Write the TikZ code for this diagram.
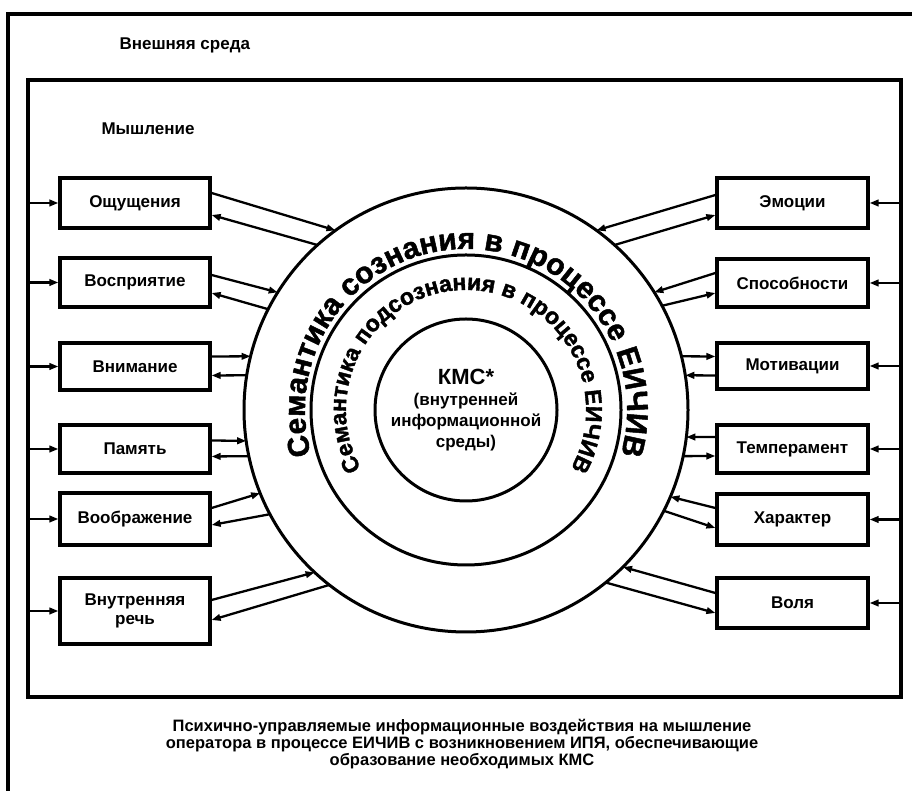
\documentclass[tikz,border=0pt]{standalone}
\usepackage{fontspec}
\setmainfont{Liberation Sans}
\newfontfamily\heavyfont[FakeBold=1.6]{Liberation Sans Bold}
\usetikzlibrary{arrows.meta,decorations.text}
\newcommand{\ringA}{\heavyfont\fontsize{30}{30}\selectfont}
\newcommand{\ringB}{\heavyfont\fontsize{23}{23}\selectfont}
\begin{document}
\begin{tikzpicture}[x=1pt,y=1pt,
  frame/.style={draw, line width=3.6pt, inner sep=0pt, outer sep=0pt},
  box/.style={draw, line width=3.2pt, inner sep=2pt, align=center,
    font=\bfseries\fontsize{17}{19}\selectfont},
  lbox/.style={box, minimum width=150pt},
  rbox/.style={box, minimum width=151pt},
  ring/.style={circle, draw, line width=3pt, inner sep=0pt, outer sep=0pt},
  lnk/.style={line width=2.3pt, -{Triangle[length=9pt,width=6.5pt]}},
  lbl/.style={anchor=west, font=\bfseries\fontsize{17}{19}\selectfont}]
\useasboundingbox (0,0) rectangle (912,791);
\fill[white] (0,0) rectangle (912,791);
% outer frame (environment)
\draw[line width=3.6pt] (8,-20) rectangle (940,777);
\node[lbl] (ext) at (116,746) {Внешняя среда};
% inner frame (thinking)
\node[frame, minimum width=873pt, minimum height=617pt] (think) at (464.5,402.5) {};
\node[lbl] (mysl) at (98,662) {Мышление};
% circles
\node[ring, minimum size=444pt] (outer) at (466,381) {};
\node[ring, minimum size=310pt] (mid) at (466,381) {};
\node[ring, minimum size=182pt, align=center,
  font=\bfseries\fontsize{17}{21}\selectfont] (core) at (466,381)
  {{\fontsize{22}{25}\selectfont КМС*}\\(внутренней\\информационной\\среды)};
% ring texts
\path[decorate, decoration={text along path, text align=center,
  text={|\ringA|Семантика сознания в процессе ЕИЧИВ}}]
  (466,381) ++(260:161) arc[start angle=260, end angle=-80, radius=161];
\path[decorate, decoration={text along path, text align=center,
  text={|\ringB|Семантика подсознания в процессе ЕИЧИВ}}]
  (466,381) ++(260:120) arc[start angle=260, end angle=-80, radius=120];
% left boxes
\node[lbox, minimum height=50pt] (ocs) at (135,588) {Ощущения};
\node[lbox, minimum height=49pt] (vos) at (135,508.5) {Восприятие};
\node[lbox, minimum height=47pt] (vni) at (135,424.5) {Внимание};
\node[lbox, minimum height=48pt] (pam) at (135,342) {Память};
\node[lbox, minimum height=52pt] (vob) at (135,272) {Воображение};
\node[lbox, minimum height=66pt] (vnr) at (135,180) {Внутренняя\\речь};
% right boxes
\node[rbox, minimum height=50pt] (emo) at (792.5,588) {Эмоции};
\node[rbox, minimum height=48pt] (spo) at (792.5,508) {Способности};
\node[rbox, minimum height=46pt] (mot) at (792.5,425) {Мотивации};
\node[rbox, minimum height=48pt] (tem) at (792.5,342) {Темперамент};
\node[rbox, minimum height=51pt] (har) at (792.5,271.5) {Характер};
\node[rbox, minimum height=50pt] (vol) at (792.5,188) {Воля};
% bus arrows
\foreach \b in {ocs,vos,vni,pam,vob,vnr}
  \draw[lnk] (think.west |- \b.west) -- (\b.west);
\foreach \b in {emo,spo,mot,tem,har,vol}
  \draw[lnk] (think.east |- \b.east) -- (\b.east);
% left links
\draw[lnk] ([yshift=10pt]ocs.east) -- (outer.126);
\draw[lnk] (outer.132) -- ([yshift=-12pt]ocs.east);
\draw[lnk] ([yshift=7.5pt]vos.east) -- (outer.148);
\draw[lnk] (outer.153) -- ([yshift=-10.5pt]vos.east);
\draw[lnk] ([yshift=10pt]vni.east) -- (outer.166);
\draw[lnk] (outer.171) -- ([yshift=-9pt]vni.east);
\draw[lnk] ([yshift=8.5pt]pam.east) -- (outer.188);
\draw[lnk] (outer.192) -- ([yshift=-7.5pt]pam.east);
\draw[lnk] ([yshift=11pt]vob.east) -- (outer.202);
\draw[lnk] (outer.208) -- ([yshift=-6pt]vob.east);
\draw[lnk] ([yshift=11pt]vnr.east) -- (outer.227);
\draw[lnk] (outer.232) -- ([yshift=-9pt]vnr.east);
% right links
\draw[lnk] ([yshift=8pt]emo.west) -- (outer.54);
\draw[lnk] (outer.48) -- ([yshift=-12pt]emo.west);
\draw[lnk] ([yshift=10pt]spo.west) -- (outer.32);
\draw[lnk] (outer.28) -- ([yshift=-10pt]spo.west);
\draw[lnk] (outer.14) -- ([yshift=9.5pt]mot.west);
\draw[lnk] ([yshift=-9.5pt]mot.west) -- (outer.9);
\draw[lnk] ([yshift=12pt]tem.west) -- (outer.-7);
\draw[lnk] (outer.-12) -- ([yshift=-7pt]tem.west);
\draw[lnk] ([yshift=11.5pt]har.west) -- (outer.-23);
\draw[lnk] (outer.-27) -- ([yshift=-8.5pt]har.west);
\draw[lnk] ([yshift=10pt]vol.west) -- (outer.-45);
\draw[lnk] (outer.-51) -- ([yshift=-10pt]vol.west);
% caption
\node[align=center, font=\bfseries\fontsize{16.5}{17}\selectfont] (cap) at (462,47)
  {Психично-управляемые информационные воздействия на мышление\\
   оператора в процессе ЕИЧИВ с возникновением ИПЯ, обеспечивающие\\
   образование необходимых КМС};
\end{tikzpicture}
\end{document}
